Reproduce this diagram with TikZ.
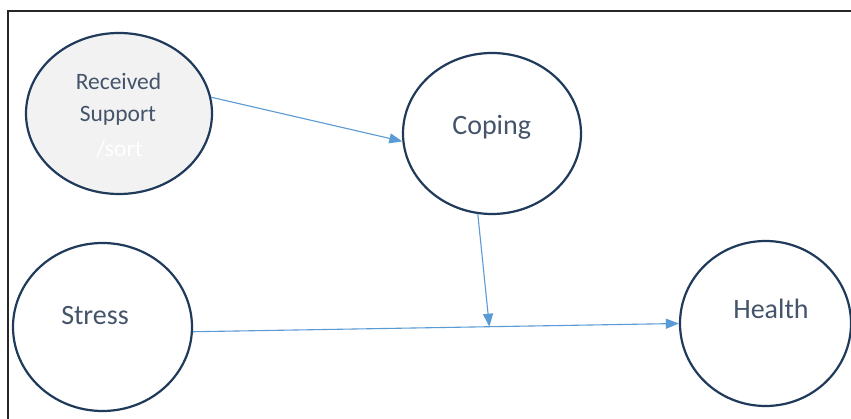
\documentclass[tikz,border=0pt]{standalone}
\usepackage{fontspec}
\setmainfont{Carlito}
\usetikzlibrary{arrows.meta,shapes.geometric,calc}
\definecolor{outl}{HTML}{1F3A5A}
\definecolor{txt}{HTML}{44546A}
\definecolor{arr}{HTML}{5B9BD5}
\definecolor{shade}{HTML}{F2F2F2}
\tikzset{
  bubble/.style={ellipse,draw=outl,line width=2.2pt,inner sep=0pt,fill=white},
  lbl/.style={anchor=base,text=txt,inner sep=0pt,font=\fontsize{28}{33}\selectfont},
  small/.style={font=\fontsize{23.5}{28}\selectfont},
  link/.style={draw=arr,line width=1.1pt,-{Triangle[length=13pt,width=10pt]}}
}
\begin{document}
\begin{tikzpicture}[x=1pt,y=-1pt]
\useasboundingbox (0,0) rectangle (851,419);
\fill[white] (0,0) rectangle (851,419);
\draw[black!85,line width=1.2pt] (8,419) -- (8,11) -- (851,11);
% ellipses
\node[bubble,fill=shade,minimum width=186pt,minimum height=161pt] (rs) at (119,113.5) {};
\node[bubble,minimum width=178pt,minimum height=161pt] (cop) at (492,133.5) {};
\node[bubble,minimum width=179pt,minimum height=168pt] (st) at (102.5,327) {};
\node[bubble,minimum width=171pt,minimum height=165pt] (he) at (765.5,323.5) {};
% labels
\node[lbl,small] (t1) at (118.5,90) {Received};
\node[lbl,small] (t2) at (118,121.7) {Support};
\node[lbl,small,text=white] (t3) at (119.5,156.7) {/sort};
\node[lbl] (t4) at (491.7,135) {Coping};
\node[lbl] (t5) at (95,325) {Stress};
\node[lbl] (t6) at (771,319) {Health};
% connectors
\coordinate (m) at ($(st.-3)!0.61!(he.west)$);
\draw[link] (rs.10) -- (cop.185);
\draw[link] (st.-3) -- (he.west);
\draw[link] (cop.260) -- (m);
\end{tikzpicture}
\end{document}
